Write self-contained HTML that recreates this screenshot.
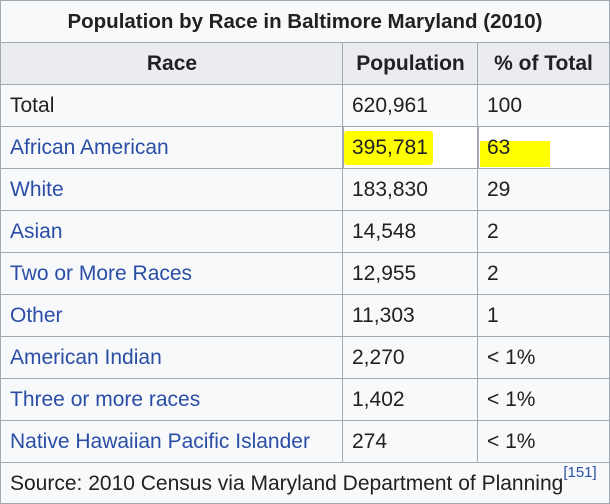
<!DOCTYPE html>
<html><head><style>
body{margin:0;width:610px;height:504px;background:#fff;overflow:hidden;font-family:"Liberation Sans",Arial,sans-serif;}
.c{position:absolute;box-sizing:border-box;background:#f8f9fa;border:1px solid #a2a9b1;font-size:21px;color:#202122;line-height:43px;padding-left:9px;white-space:nowrap;}
.h{background:#eaecf0;font-weight:bold;text-align:center;padding-left:0;}
a{color:#2a4ea6;text-decoration:none}
.hl{position:absolute;background:#ffff00;}
sup{font-size:15px;color:#2a4ea6;vertical-align:top;position:relative;top:-11px}
</style></head><body>
<div class="c h" style="left:0;top:0;width:610px;height:43px;background:#f8f9fa;font-size:20.5px;line-height:42px">Population by Race in Baltimore Maryland (2010)</div>
<div class="c h" style="left:0;top:42px;width:344px;height:43px;line-height:42px">Race</div>
<div class="c h" style="left:342px;top:42px;width:137px;height:43px;line-height:42px">Population</div>
<div class="c h" style="left:477px;top:42px;width:133px;height:43px;line-height:42px">% of Total</div>
<div id="rows"></div>
<div class="c" style="left:0;top:462px;width:610px;height:42px;line-height:41px">Source: 2010 Census via Maryland Department of Planning<sup>[151]</sup></div>
<script>
var d=[["Total","620,961","100",0],["African American","395,781","63",1],["White","183,830","29",1],["Asian","14,548","2",1],["Two or More Races","12,955","2",1],["Other","11,303","1",1],["American Indian","2,270","&lt; 1%",1],["Three or more races","1,402","&lt; 1%",1],["Native Hawaiian Pacific Islander","274","&lt; 1%",1]];
var h="";
d.forEach(function(r,i){var t=84+i*42;
h+='<div class="c" style="left:0;top:'+t+'px;width:344px;height:43px;line-height:41px">'+(r[3]?'<a>'+r[0]+'</a>':r[0])+'</div>';
if(i==1){h+='<div class="hl" style="left:344px;top:131px;width:89px;height:34px;border-radius:3px"></div><div class="hl" style="left:480px;top:141px;width:70px;height:26px"></div>';}
h+='<div class="c" style="left:342px;top:'+t+'px;width:137px;height:43px;line-height:41px;'+(i==1?'background:transparent':'')+'">'+r[1]+'</div>';
h+='<div class="c" style="left:477px;top:'+t+'px;width:133px;height:43px;line-height:41px;'+(i==1?'background:transparent':'')+'">'+r[2]+'</div>';});
document.getElementById("rows").innerHTML=h;
</script>
</body></html>
